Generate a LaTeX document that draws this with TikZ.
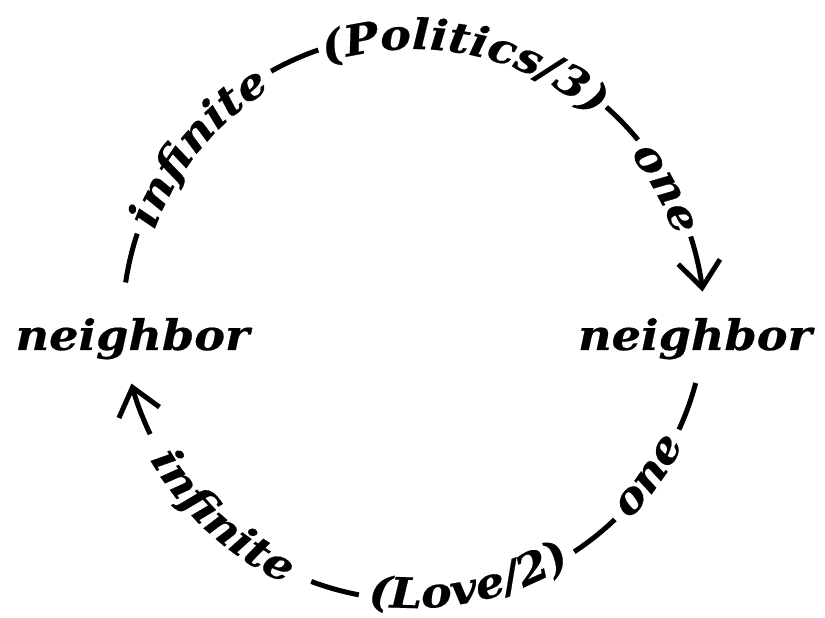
\documentclass[tikz,border=0pt]{standalone}
\usepackage{fontspec}
\usetikzlibrary{decorations.text,arrows.meta}
\newfontfamily\lblfamily[FakeStretch=1.10,FakeBold=0.5]{DejaVu Serif}
\newcommand\lblf{\lblfamily\bfseries\itshape\fontsize{42}{44}\selectfont}
\begin{document}
\begin{tikzpicture}[x=1pt,y=1pt,
  dashline/.style={line width=5pt},
  arrowline/.style={line width=5pt,-{Straight Barb[length=26pt,width=42pt]}},
  words/.style={decorate,decoration={text along path,text align=center,text={|\lblf|#1}}},
  lbl/.style={font=\lblf,anchor=base,inner sep=0pt}]
\useasboundingbox (0,0) rectangle (825,618);
\coordinate (ct) at (413.5,293);
\coordinate (cb) at (413.5,310);
\node[lbl] (nl) at (132.5,268) {neighbor};
\node[lbl] (nr) at (695,268) {neighbor};
% top connector: nl -> nr
\draw[dashline] (ct) ++(171.6:291) arc[start angle=171.6,end angle=161.7,radius=291];
\path[words={inﬁnite}] (ct) ++(175.5:276) arc[start angle=175.5,end angle=105.5,radius=276];
\draw[dashline] (ct) ++(119.3:291) arc[start angle=119.3,end angle=109.1,radius=291];
\path[words={(Politics/3)}] (ct) ++(118.8:276) arc[start angle=118.8,end angle=38.8,radius=276];
\draw[dashline] (ct) ++(48.5:291) arc[start angle=48.5,end angle=39.5,radius=291];
\path[words={one}] (ct) ++(58.5:276) arc[start angle=58.5,end angle=-1.5,radius=276];
\draw[arrowline] (ct) ++(17.7:291) arc[start angle=17.7,end angle=6.6,radius=291];
% bottom connector: nr -> nl
\draw[arrowline] (cb) ++(205.6:292) arc[start angle=205.6,end angle=195,radius=292];
\path[words={inﬁnite}] (cb) ++(192.5:304) arc[start angle=192.5,end angle=262.5,radius=304];
\draw[dashline] (cb) ++(249.5:292) arc[start angle=249.5,end angle=259.2,radius=292];
\path[words={(Love/2)}] (cb) ++(246.5:300) arc[start angle=246.5,end angle=316.5,radius=300];
\draw[dashline] (cb) ++(303.4:292) arc[start angle=303.4,end angle=313.6,radius=292];
\path[words={one}] (cb) ++(294.5:302) arc[start angle=294.5,end angle=354.5,radius=302];
\draw[dashline] (cb) ++(335.4:292) arc[start angle=335.4,end angle=345.1,radius=292];
\end{tikzpicture}
\end{document}
